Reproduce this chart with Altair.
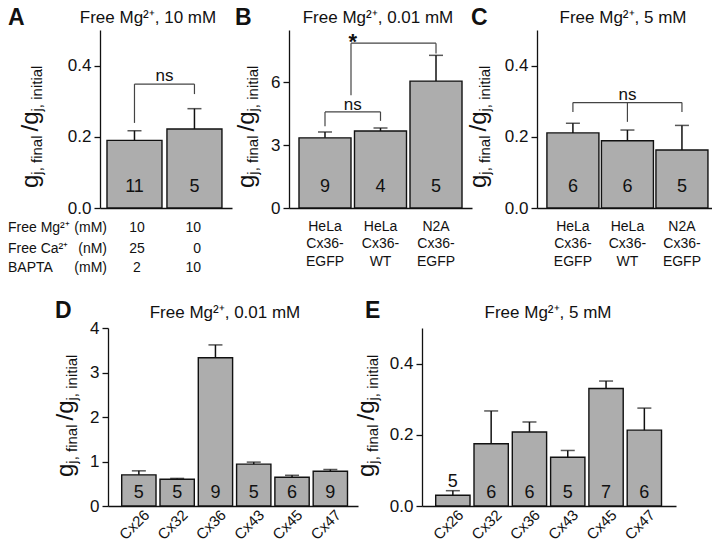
import altair as alt
import pandas as pd

FONT = "Liberation Sans"
BAR = "#adadad"
EDGE = "#111111"
INK = "#111111"
BR = "#444444"
W, H = 704, 531

# ---------------- data ----------------
a_cats = ["c1", "c2"]
a_vals = [0.19, 0.222]
a_errs = [0.217, 0.279]
a_ns = ["11", "5"]
a_br_low = [0.239, 0.32]
a_br_level = 0.348
a_ns_y = 0.37

b_cats = ["HeLa Cx36-EGFP", "HeLa Cx36-WT", "N2A Cx36-EGFP"]
b_vals = [3.35, 3.68, 6.06]
b_errs = [3.63, 3.82, 7.29]
b_ns = ["9", "4", "5"]
b_br_low = [3.9, 4.16]
b_br_level = 4.59
b_ns_y = 4.9
b_star_low = [5.38, 7.38]
b_star_level = 7.87
b_star_y = 7.95

c_cats = ["HeLa Cx36-EGFP", "HeLa Cx36-WT", "N2A Cx36-EGFP"]
c_vals = [0.211, 0.189, 0.163]
c_errs = [0.238, 0.219, 0.232]
c_ns = ["6", "6", "5"]
c_br_low = [0.27, 0.242, 0.27]
c_br_level = 0.296
c_ns_y = 0.317

cx_cats = ["Cx26", "Cx32", "Cx36", "Cx43", "Cx45", "Cx47"]
d_vals = [0.70, 0.60, 3.33, 0.94, 0.645, 0.78]
d_errs = [0.79, 0.62, 3.62, 0.986, 0.69, 0.82]
d_ns = ["5", "5", "9", "5", "6", "9"]

e_vals = [0.030, 0.175, 0.208, 0.137, 0.330, 0.213]
e_errs = [0.043, 0.267, 0.236, 0.156, 0.351, 0.275]
e_ns = ["5", "6", "6", "5", "7", "6"]

tbl_rows = ["Free Mg²⁺", "Free Ca²⁺", "BAPTA"]
tbl_units = ["(mM)", "(nM)", "(mM)"]
tbl_col1 = ["10", "25", "2"]
tbl_col2 = ["10", "0", "10"]

titles = ["Free Mg²⁺, 10 mM", "Free Mg²⁺, 0.01 mM", "Free Mg²⁺, 5 mM",
          "Free Mg²⁺, 0.01 mM", "Free Mg²⁺, 5 mM"]
letters = ["A", "B", "C", "D", "E"]

# ---------------- helpers ----------------
dummy = pd.DataFrame({"d": [0]})


def txt(s, x, y, size=15, align="left", baseline="alphabetic", angle=0, weight="normal"):
    kw = dict(fontSize=size, align=align, baseline=baseline, fontWeight=weight,
              color=INK, font=FONT)
    if angle:
        kw["angle"] = angle
    return alt.Chart(dummy).mark_text(**kw).encode(
        x=alt.value(x), y=alt.value(y), text=alt.value(s))


ARIAL = {"g": 556, "j": 222, ",": 278, " ": 278, "f": 278, "i": 222, "n": 556,
         "a": 556, "l": 222, "/": 278, "t": 278}


def tw(s, size):
    return sum(ARIAL.get(ch, 556) for ch in s) * size / 1000.0


def ytitle(xb, y0):
    out = []
    y = y0
    for s, big in [("g", True), ("j, final", False), ("/g", True), ("j, initial", False)]:
        size = 24 if big else 15
        out.append(txt(s, xb + (0 if big else 4), y, size=size, angle=270))
        y -= tw(s, size) + (4 if s == "j, final" else 0)
    return out


def yaxis(xpix, ticks, fmt):
    return alt.Axis(orient="left", offset=-xpix, values=ticks, format=fmt, title=None,
                    grid=False, tickSize=6, tickWidth=1.3, domainWidth=1.3,
                    labelFontSize=17, labelPadding=3, domainColor=INK, tickColor=INK,
                    labelColor=INK, labelFont=FONT)


def xaxis(ypix, **kw):
    return alt.Axis(orient="bottom", offset=ypix - H, title=None, grid=False, ticks=False,
                    domainWidth=1.3, domainColor=INK, labelColor=INK, labelFont=FONT, **kw)


class Panel:
    def __init__(self, cats, xr, pi, po, al, yr, ydom, yticks, yfmt, xax):
        self.xs = alt.Scale(domain=cats, range=xr, paddingInner=pi, paddingOuter=po, align=al)
        self.ys = alt.Scale(domain=ydom, range=yr, nice=False, zero=False)
        self.xax = xax
        self.yax = yaxis(xr[0], yticks, yfmt)
        self.ydom = ydom
        self.layers = []

    def X(self, field, band=None):
        if band is None:
            return alt.X(field, type="nominal", scale=self.xs, axis=self.xax)
        return alt.X(field, type="nominal", scale=self.xs, axis=self.xax, bandPosition=band)

    def Y(self, field):
        return alt.Y(field, type="quantitative", scale=self.ys, axis=self.yax, stack=None)

    def bars(self, cats, vals, errs, ns, label_pix):
        df = pd.DataFrame({"cat": cats, "v": vals, "e": errs, "n": ns})
        thr = 0.1 * self.ydom[1]
        base = alt.Chart(df)
        self.layers += [
            base.mark_bar(fill=BAR, stroke=EDGE, strokeWidth=1.4).encode(
                x=self.X("cat"), y=self.Y("v")),
            base.mark_rule(color=INK, strokeWidth=1.5).encode(
                x=self.X("cat"), y=self.Y("v"), y2="e:Q"),
            base.mark_tick(color=INK, size=14, thickness=1.5).encode(
                x=self.X("cat"), y=self.Y("e")),
            base.transform_filter(f"datum.v >= {thr}").mark_text(
                fontSize=18, font=FONT, color=INK, baseline="middle").encode(
                x=self.X("cat"), y=alt.value(label_pix), text="n:N"),
            base.transform_filter(f"datum.v < {thr}").mark_text(
                fontSize=18, font=FONT, color=INK, baseline="middle", dy=-9).encode(
                x=self.X("cat"), y=self.Y("e"), text="n:N"),
        ]

    def legs(self, cats, lows, level, band=None):
        df = pd.DataFrame({"cat": cats, "lo": lows, "lvl": [level] * len(cats)})
        self.layers.append(alt.Chart(df).mark_rule(color=BR, strokeWidth=1.2).encode(
            x=self.X("cat", band), y=self.Y("lvl"), y2="lo:Q"))

    def hline(self, a, b, level, band_a=None):
        df = pd.DataFrame({"a": [a], "b": [b], "lvl": [level]})
        self.layers.append(alt.Chart(df).mark_rule(color=BR, strokeWidth=1.2).encode(
            x=self.X("a", band_a), x2=alt.X2("b", bandPosition=0.5), y=self.Y("lvl")))

    def label(self, cat, yv, s, band=0.5, dx=0, size=17, weight="normal"):
        df = pd.DataFrame({"cat": [cat], "y": [yv], "t": [s]})
        self.layers.append(alt.Chart(df).mark_text(
            fontSize=size, font=FONT, color=INK, baseline="middle",
            fontWeight=weight, dx=dx).encode(
            x=self.X("cat", band), y=self.Y("y"), text="t:N"))

    def chart(self):
        return alt.layer(*self.layers)


# ---------------- panels ----------------
# A
pa = Panel(a_cats, [92, 224], 0.083, 0.142, 0.41, [200, 22], [0, 0.5], [0, 0.2, 0.4], ".1f",
           xaxis(200, labels=False))
pa.bars(a_cats, a_vals, a_errs, a_ns, 179)
pa.legs(a_cats, a_br_low, a_br_level)
pa.hline(a_cats[0], a_cats[1], a_br_level)
pa.label(a_cats[0], a_ns_y, "ns", band=1, dx=2.5)

# B
cat_lab = dict(labelExpr="split(replace(datum.label, '-', '- '), ' ')", labelFontSize=14,
               labelLineHeight=17.5, labelPadding=11, labelAngle=0)
pb = Panel(b_cats, [281, 464], 0.063, 0.18, 0.5, [200, 22], [0, 8.5], [0, 3, 6], "d",
           xaxis(200, **cat_lab))
pb.bars(b_cats, b_vals, b_errs, b_ns, 179)
pb.legs(b_cats[:2], b_br_low, b_br_level)
pb.hline(b_cats[0], b_cats[1], b_br_level)
pb.label(b_cats[0], b_ns_y, "ns", band=1, dx=1.7)
pb.legs(b_cats[:1], b_star_low[:1], b_star_level, band=1)
pb.legs(b_cats[2:], b_star_low[1:], b_star_level)
pb.hline(b_cats[0], b_cats[2], b_star_level, band_a=1)
pb.label(b_cats[0], b_star_y, "*", band=1, dx=1.7, size=22, weight="bold")

# C
pc = Panel(c_cats, [529, 704], 0.046, 0.128, 0.71, [200, 22], [0, 0.5], [0, 0.2, 0.4], ".1f",
           xaxis(200, **cat_lab))
pc.bars(c_cats, c_vals, c_errs, c_ns, 179)
pc.legs(c_cats, c_br_low, c_br_level)
pc.hline(c_cats[0], c_cats[2], c_br_level)
pc.label(c_cats[1], c_ns_y, "ns")

# D
rot = dict(labelAngle=-45, labelFontSize=15, labelPadding=1, labelOffset=3)
pd_ = Panel(cx_cats, [100, 350], 0.104, 0.316, 0.566, [498, 320], [0, 4], [0, 1, 2, 3, 4], "d",
            xaxis(498, **rot))
pd_.bars(cx_cats, d_vals, d_errs, d_ns, 485)

# E
pe = Panel(cx_cats, [414, 668], 0.104, 0.368, 0.486, [498, 320], [0, 0.5], [0, 0.2, 0.4], ".1f",
           xaxis(498, **rot))
pe.bars(cx_cats, e_vals, e_errs, e_ns, 485)

# ---------------- annotations ----------------
ann = []
for s, x, y in zip(titles, [140, 370, 615, 217, 540], [15, 15, 15, 310, 310]):
    ann.append(txt(s, x, y, size=17, align="center"))
for s, x, y in zip(letters, [0, 227, 463, 47, 357], [17, 17, 17, 310, 310]):
    ann.append(txt(s, x, y, size=23, weight="bold"))
for xb, y0 in [(29.5, 180), (246, 180), (477.5, 180), (64.5, 469), (365.5, 469)]:
    ann += ytitle(xb, y0)
for i, yb in enumerate([223.7, 244.7, 263.7]):
    ann.append(txt(tbl_rows[i], 0, yb, size=14))
    ann.append(txt(tbl_units[i], 99, yb, size=14, align="right"))
    ann.append(txt(tbl_col1[i], 129, yb, size=14, align="center"))
    ann.append(txt(tbl_col2[i], 193, yb, size=14, align="right"))

chart = alt.layer(pa.chart(), pb.chart(), pc.chart(), pd_.chart(), pe.chart(), *ann).resolve_scale(
    x="independent", y="independent").properties(
    width=W, height=H, autosize=alt.AutoSizeParams(type="none"), padding=0
).configure_view(strokeOpacity=0)

chart.save("out.html", embed_options={"renderer": "svg", "actions": False})
